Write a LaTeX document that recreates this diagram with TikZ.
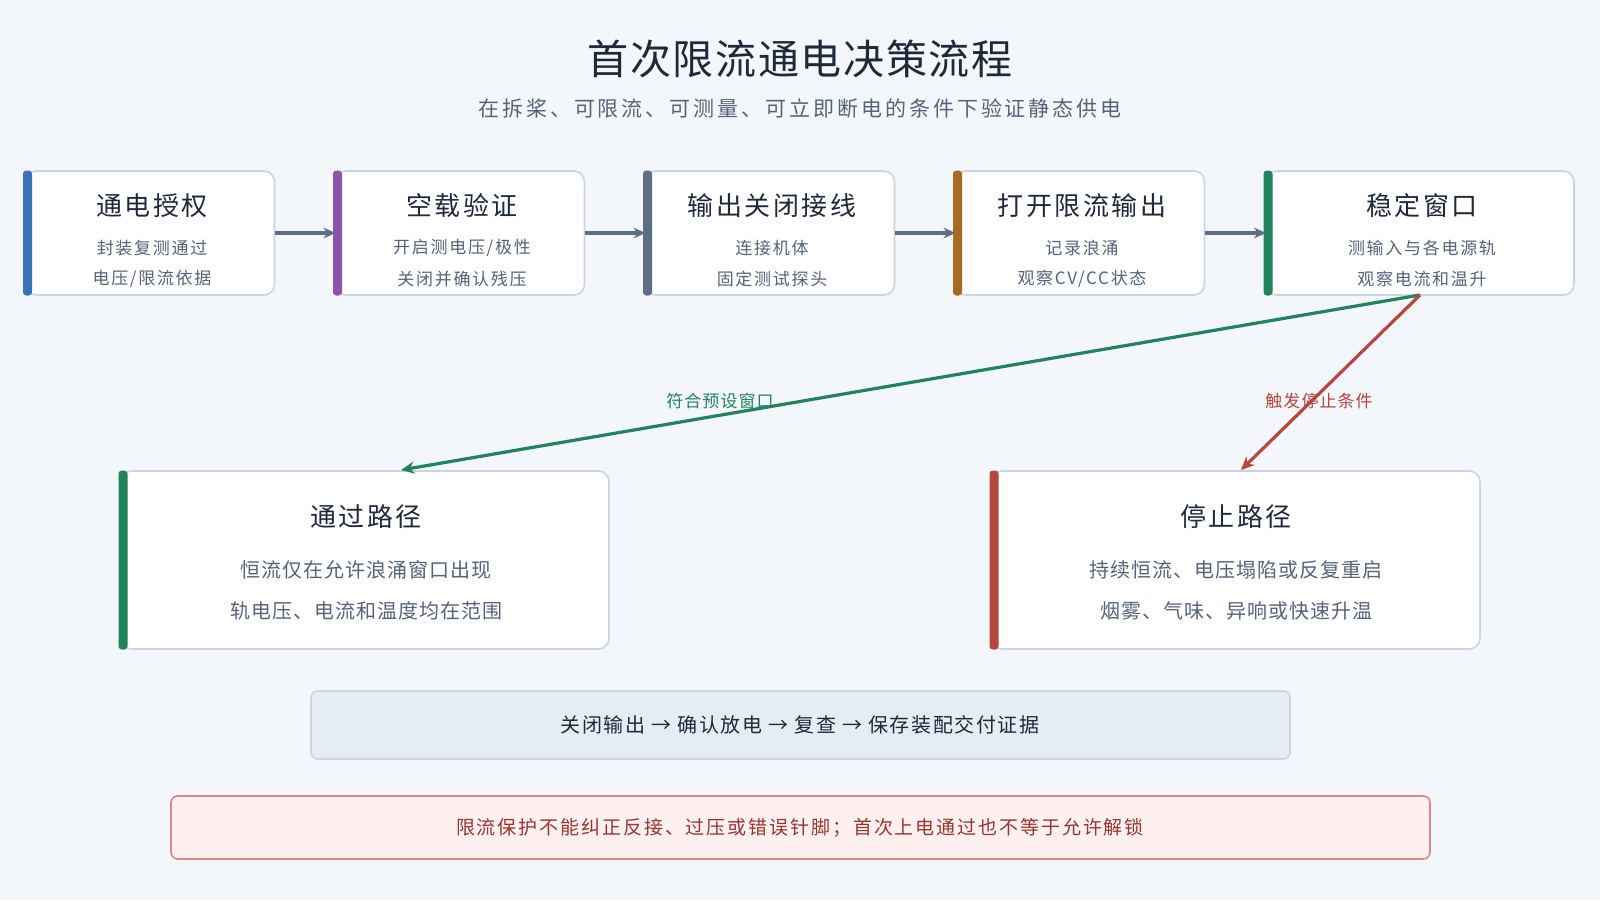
\documentclass[tikz,border=0pt]{standalone}
\usepackage{fontspec}
\setmainfont{Noto Sans CJK SC}
\usetikzlibrary{arrows.meta}
\definecolor{bg}{HTML}{F3F6FA}
\definecolor{bd}{HTML}{CBD5E1}
\definecolor{cblue}{HTML}{3A72B8}
\definecolor{cpur}{HTML}{8E52A8}
\definecolor{cslate}{HTML}{5E6E85}
\definecolor{cbrown}{HTML}{A66B22}
\definecolor{cgreen}{HTML}{23835C}
\definecolor{cred}{HTML}{B5473E}
\definecolor{ttl}{HTML}{1E293B}
\definecolor{sub}{HTML}{55647A}
\definecolor{actf}{HTML}{E6ECF4}
\definecolor{warnf}{HTML}{FDF0EF}
\definecolor{warnb}{HTML}{D88A84}
\definecolor{warnt}{HTML}{9B3530}
\newcommand{\px}[2]{\fontsize{0.75\dimexpr #1pt\relax}{0.9\dimexpr #1pt\relax}\selectfont\addfontfeature{LetterSpace=#2}}
\begin{document}
\begin{tikzpicture}[x=0.75pt,y=-0.75pt,
  card/.style={draw=bd,line width=1.2pt,fill=white,rounded corners=8pt},
  flow/.style={draw=cslate,line width=3pt,-{Stealth[length=9pt,width=8pt]}},
  ttxt/.style={text=ttl,font=\px{26}{10}},
  stxt/.style={text=sub,font=\px{17}{10}},
  btxt/.style={text=ttl,font=\px{26}{8}},
  bstxt/.style={text=sub,font=\px{20}{5}}]
\fill[bg] (0,0) rectangle (1600,900);
\useasboundingbox (0,0) rectangle (1600,900);
\node[text=ttl,font=\px{41}{4}] (title) at (800,59) {首次限流通电决策流程};
\node[text=sub,font=\px{21}{14}] (subt) at (800,108) {在拆桨、可限流、可测量、可立即断电的条件下验证静态供电};
% top cards
\foreach \i/\x/\w/\c/\t/\a/\b in {
 1/25.5/249/cblue/通电授权/封装复测通过/{电压/限流依据},
 2/335.5/249/cpur/空载验证/{开启测电压/极性}/关闭并确认残压,
 3/645.5/249/cslate/输出关闭接线/连接机体/固定测试探头,
 4/955.5/249/cbrown/打开限流输出/记录浪涌/{观察CV/CC状态},
 5/1266/308/cgreen/稳定窗口/测输入与各电源轨/观察电流和温升}{
  \draw[card] (\x,171) rectangle ++(\w,124);
  \coordinate (c\i w) at (\x,233);
  \coordinate (c\i e) at (\x+\w,233);
  \fill[\c,rounded corners=2.5pt] (\x-2.5,170.5) rectangle ++(9,125);
  \node[ttxt] (t\i) at (\x+2+\w/2,206) {\t};
  \node[stxt] (a\i) at (\x+2+\w/2,248) {\a};
  \node[stxt] (b\i) at (\x+2+\w/2,279) {\b};
}
\coordinate (c5s) at (1420,295);
\draw[flow] (c1e) -- (c2w);
\draw[flow] (c2e) -- (c3w);
\draw[flow] (c3e) -- (c4w);
\draw[flow] (c4e) -- (c5w);
% bottom cards
\draw[card] (121,471) rectangle (609,649);
\fill[cgreen,rounded corners=2.5pt] (118.5,470.5) rectangle ++(9,179);
\node[btxt] (pt) at (366,517) {通过路径};
\node[bstxt] (p1) at (366,570) {恒流仅在允许浪涌窗口出现};
\node[bstxt] (p2) at (366,611) {轨电压、电流和温度均在范围};
\coordinate (pin) at (401,470);
\draw[card] (992,471) rectangle (1480,649);
\fill[cred,rounded corners=2.5pt] (989.5,470.5) rectangle ++(9,179);
\node[btxt] (st) at (1236,517) {停止路径};
\node[bstxt] (s1) at (1236,570) {持续恒流、电压塌陷或反复重启};
\node[bstxt] (s2) at (1236,611) {烟雾、气味、异响或快速升温};
\coordinate (sin) at (1241,470);
\draw[cgreen,line width=2.4pt,-{Stealth[length=10pt,width=9pt]}] (c5s) -- (pin);
\draw[cred,line width=2.4pt,-{Stealth[length=10pt,width=9pt]}] (c5s) -- (sin);
\node[text=cgreen,font=\px{17}{6}] (gl) at (720,401) {符合预设窗口};
\node[text=cred,font=\px{17}{6}] (rl) at (1319,401) {触发停止条件};
% action
\draw[bd,fill=actf,line width=1.2pt,rounded corners=5pt] (311,691) rectangle (1290,759);
\node[text=ttl,font=\px{20}{8}] (act) at (800,725) {关闭输出 → 确认放电 → 复查 → 保存装配交付证据};
\draw[warnb,fill=warnf,line width=1.2pt,rounded corners=5pt] (171,796) rectangle (1430,859);
\node[text=warnt,font=\px{19}{10}] (warn) at (800,828) {限流保护不能纠正反接、过压或错误针脚；首次上电通过也不等于允许解锁};
\end{tikzpicture}
\end{document}
